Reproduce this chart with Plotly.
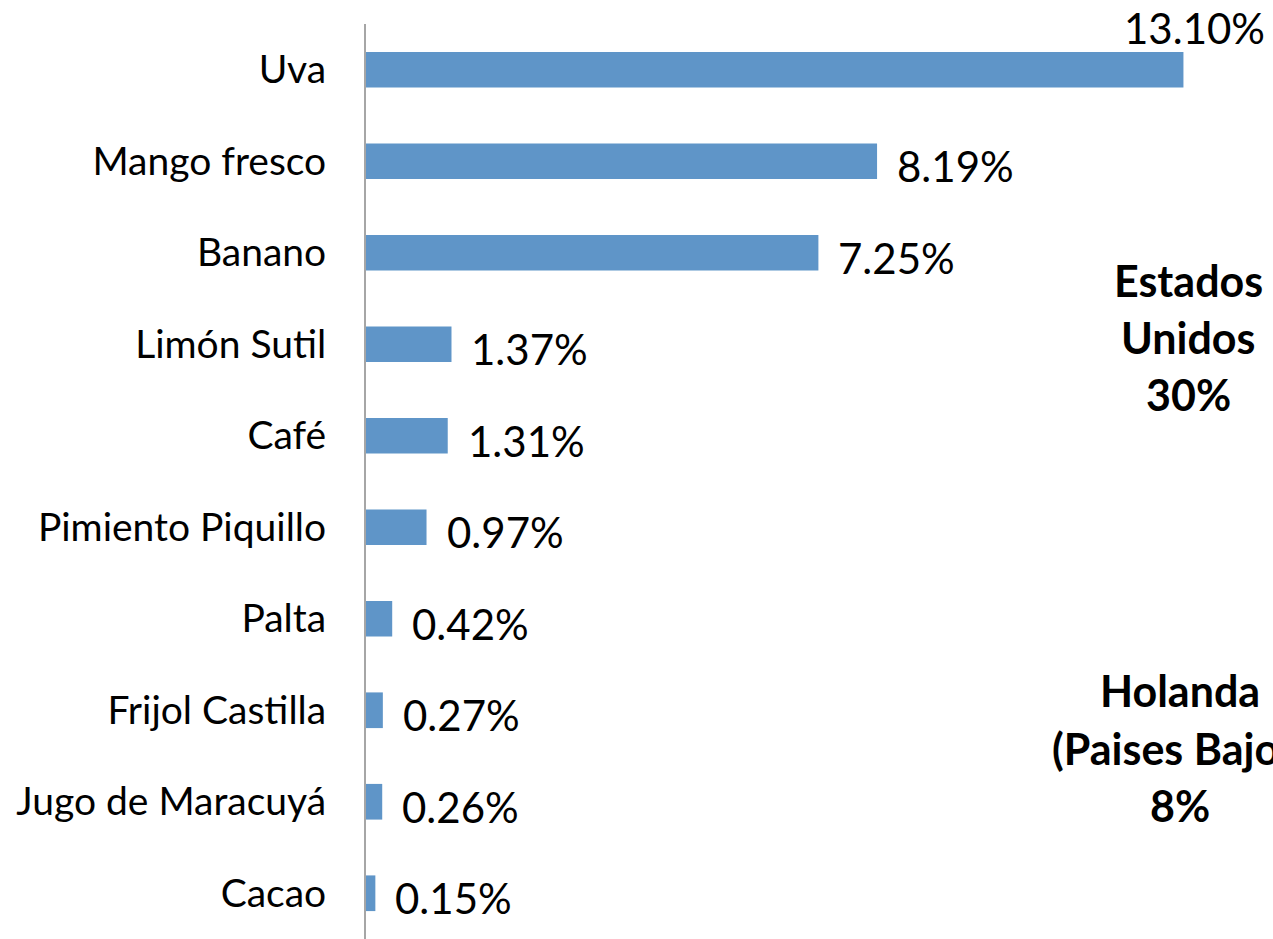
import plotly.graph_objects as go

categories = ["Uva", "Mango fresco", "Banano", "Limón Sutil", "Café",
              "Pimiento Piquillo", "Palta", "Frijol Castilla",
              "Jugo de Maracuyá", "Cacao"]
values = [13.10, 8.19, 7.25, 1.37, 1.31, 0.97, 0.42, 0.27, 0.26, 0.15]
value_labels = ["13.10%", "8.19%", "7.25%", "1.37%", "1.31%", "0.97%",
                "0.42%", "0.27%", "0.26%", "0.15%"]
notes = [["Estados", "Unidos", "30%"], ["Holanda", "(Paises Bajos)", "8%"]]

FONT = "Lato"
W, H = 1273, 939
ML, MT = 366, 24
XMAX = (W - ML) / 62.4

fig = go.Figure(go.Bar(
    x=values, y=categories, orientation="h",
    marker=dict(color="#5F95C8", line=dict(width=0)),
    width=0.39,
))

for i, (v, lab) in enumerate(zip(values, value_labels)):
    if i == 0:
        fig.add_annotation(x=v, y=categories[i], text=lab, showarrow=False,
                           xanchor="center", yanchor="middle",
                           xshift=11, yshift=42,
                           font=dict(family=FONT, size=42, color="#000"))
    else:
        fig.add_annotation(x=v, y=categories[i], text=lab, showarrow=False,
                           xanchor="left", yanchor="middle",
                           xshift=18, yshift=-5,
                           font=dict(family=FONT, size=42, color="#000"))

def py2paper(py):
    return 1 - (py - MT) / (H - MT)

note_pos = [(1188, [280, 337, 395]), (1180, [690, 748, 805])]
for lines, (cx, ys) in zip(notes, note_pos):
    for line, yy in zip(lines, ys):
        fig.add_annotation(x=(cx - ML) / 62.4, xref="x", y=py2paper(yy), yref="paper",
                           text=f"<b>{line}</b>", showarrow=False,
                           xanchor="center", yanchor="middle",
                           font=dict(family=FONT, size=43, color="#000"))

fig.update_layout(
    width=W, height=H,
    margin=dict(l=ML, r=0, t=MT, b=0, pad=0, autoexpand=False),
    plot_bgcolor="white", paper_bgcolor="white",
    showlegend=False,
    bargap=0.6,
)
fig.update_xaxes(range=[0, XMAX], showticklabels=False, showgrid=False,
                 zeroline=False, showline=False, fixedrange=True,
                 automargin=False)
fig.update_yaxes(type="category", categoryorder="array",
                 categoryarray=categories[::-1], range=[-0.5, 9.5],
                 automargin=False,
                 showline=True, linecolor="#A6A6A6", linewidth=2,
                 showgrid=False, ticks="", ticklabelstandoff=30,
                 tickfont=dict(family=FONT, size=39, color="#000"))

fig.write_html("out.html", config={"displayModeBar": False},
               post_script="document.body.style.margin='0';document.body.style.overflow='hidden';")
